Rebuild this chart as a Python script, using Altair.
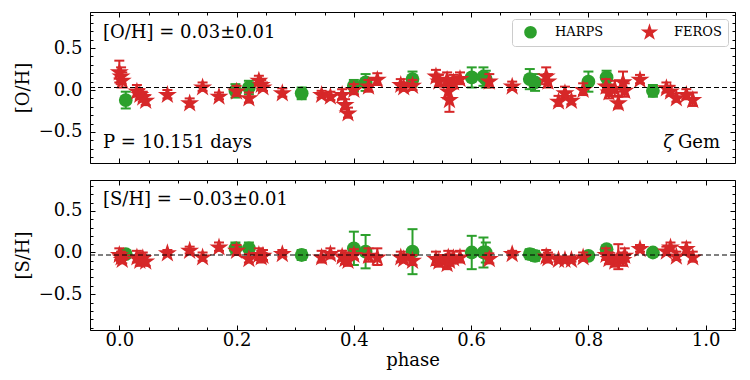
import math
import altair as alt
import pandas as pd

# ---------------- data ----------------
harps_phase = [0.011, 0.198, 0.221, 0.311, 0.400, 0.420, 0.500, 0.601, 0.621, 0.625,
               0.700, 0.709, 0.800, 0.831, 0.910]
harps_oh = [-0.12, -0.01, 0.03, -0.04, 0.05, 0.09, 0.13, 0.15, 0.16, 0.13,
            0.13, 0.09, 0.10, 0.15, -0.01]
harps_oh_err = [0.10, 0.08, 0.08, 0.07, 0.07, 0.10, 0.09, 0.12, 0.11, 0.10,
                0.12, 0.10, 0.12, 0.08, 0.07]
harps_sh = [-0.02, 0.05, 0.05, -0.03, 0.05, 0.01, 0.01, 0.00, 0.00, 0.00,
            -0.02, -0.04, -0.04, 0.04, 0.00]
harps_sh_err = [0.04, 0.07, 0.07, 0.06, 0.20, 0.20, 0.27, 0.20, 0.18, 0.12,
                0.06, 0.06, 0.04, 0.04, 0.03]

feros_phase = [0.000, 0.003, 0.005, 0.030, 0.035, 0.040, 0.045, 0.082, 0.120, 0.142,
               0.170, 0.200, 0.221, 0.238, 0.242, 0.245, 0.278, 0.345, 0.360, 0.380,
               0.385, 0.390, 0.400, 0.425, 0.440, 0.480, 0.485, 0.500, 0.540, 0.545,
               0.559, 0.561, 0.563, 0.570, 0.581, 0.631, 0.670, 0.728, 0.731, 0.749,
               0.760, 0.771, 0.791, 0.830, 0.835, 0.845, 0.851, 0.859, 0.862, 0.888,
               0.933, 0.940, 0.950, 0.967, 0.978]
feros_oh = [0.22, 0.17, 0.12, -0.01, -0.05, -0.08, -0.12, -0.05, -0.15, 0.04,
            -0.07, -0.01, -0.09, 0.12, 0.07, 0.04, -0.03, -0.05, -0.07, -0.05,
            -0.17, -0.27, 0.01, 0.05, 0.13, 0.07, 0.04, 0.06, 0.17, 0.11,
            0.13, -0.01, -0.11, 0.10, 0.14, 0.11, 0.05, 0.17, 0.11, -0.13,
            -0.03, -0.12, 0.01, 0.05, -0.02, 0.02, -0.15, 0.10, 0.00, 0.13,
            0.03, -0.01, -0.09, -0.05, -0.11]
feros_oh_err = [0.13, 0.10, 0.09, 0.07, 0.06, 0.06, 0.06, 0.05, 0.05, 0.05,
                0.04, 0.06, 0.06, 0.05, 0.05, 0.05, 0.05, 0.04, 0.05, 0.06,
                0.06, 0.06, 0.06, 0.07, 0.07, 0.06, 0.05, 0.06, 0.07, 0.07,
                0.08, 0.08, 0.15, 0.08, 0.07, 0.08, 0.05, 0.10, 0.08, 0.06,
                0.07, 0.05, 0.07, 0.08, 0.08, 0.09, 0.07, 0.12, 0.08, 0.05,
                0.06, 0.06, 0.05, 0.06, 0.08]
feros_sh = [-0.02, -0.05, -0.08, -0.05, -0.09, -0.06, -0.10, 0.00, 0.03, -0.05,
            0.07, 0.03, -0.07, -0.02, -0.05, -0.03, -0.01, -0.05, -0.01, -0.04,
            -0.07, -0.09, -0.02, -0.03, -0.05, -0.05, -0.07, -0.09, -0.07, -0.10,
            -0.13, -0.05, -0.09, -0.06, -0.05, -0.07, -0.01, -0.04, -0.06, -0.08,
            -0.08, -0.08, -0.05, -0.02, -0.07, -0.10, -0.05, -0.08, -0.03, 0.05,
            0.02, 0.07, -0.04, 0.05, -0.05]
feros_sh_err = [0.07, 0.06, 0.05, 0.07, 0.07, 0.06, 0.06, 0.03, 0.04, 0.05,
                0.05, 0.06, 0.05, 0.07, 0.07, 0.06, 0.04, 0.07, 0.06, 0.06,
                0.07, 0.07, 0.06, 0.08, 0.10, 0.06, 0.05, 0.06, 0.08, 0.07,
                0.07, 0.07, 0.07, 0.07, 0.07, 0.06, 0.03, 0.07, 0.06, 0.03,
                0.03, 0.03, 0.05, 0.07, 0.07, 0.07, 0.15, 0.08, 0.08, 0.04,
                0.05, 0.05, 0.05, 0.07, 0.06]

instruments = ["HARPS", "FEROS"]
inst_colors = ["#2ca02c", "#d62728"]
mean_oh = [0.03]
mean_sh = [-0.03]
ann_top_left = ["[O/H] = 0.03±0.01"]
ann_period = ["P = 10.151 days"]
ann_star_sym = ["ζ"]
ann_star_name = ["Gem"]
ann_bottom_left = ["[S/H] = −0.03±0.01"]

# ---------------- tables ----------------
def table(phase, val, err, inst):
    return pd.DataFrame({"phase": phase, "val": val, "err": err, "inst": inst})

oh_df = pd.concat([table(harps_phase, harps_oh, harps_oh_err, "HARPS"),
                   table(feros_phase, feros_oh, feros_oh_err, "FEROS")], ignore_index=True)
sh_df = pd.concat([table(harps_phase, harps_sh, harps_sh_err, "HARPS"),
                   table(feros_phase, feros_sh, feros_sh_err, "FEROS")], ignore_index=True)

# 5-point star path (matplotlib '*'), drawn a bit larger than the unit box
STAR_SCALE = 1.45
pts = []
for k in range(10):
    r = (1.0 if k % 2 == 0 else 0.382) * STAR_SCALE
    a = math.radians(36 * k)
    pts.append((r * math.sin(a), -r * math.cos(a) + 0.12))
star_path = "M" + " L".join(f"{x:.4f},{y:.4f}" for x, y in pts) + " Z"

FONT = "DejaVu Serif"
W, H_TOP, H_BOT = 645, 151, 150

xs = alt.Scale(domain=[-0.05, 1.05], nice=False, zero=False)
cscale = alt.Scale(domain=instruments, range=inst_colors)
sscale = alt.Scale(domain=instruments, range=["circle", star_path])

x_major = [0.0, 0.2, 0.4, 0.6, 0.8, 1.0]
x_minor = [round(-0.05 + 0.05 * i, 2) for i in range(23)
           if abs(round((-0.05 + 0.05 * i) / 0.2, 6) % 1) > 1e-6]
y_major = [-0.5, 0.0, 0.5]


def tick_axis(orient, values, size):
    return alt.Axis(orient=orient, values=values, labels=False, domain=False, grid=False,
                    tickSize=size, offset=-size, tickColor="black", tickWidth=1, title=None)


def panel(df, ydomain, ytitle, mean_vals, texts, show_xlabels, with_legend):
    ys = alt.Scale(domain=ydomain, nice=False, zero=False)
    y_minor = [round(v / 10, 1) for v in range(-9, 10)
               if ydomain[0] <= v / 10 <= ydomain[1] and v % 5 != 0]

    base = alt.Chart(df)
    layers = []
    for inst, colr in zip(instruments, inst_colors):
        sub = base.transform_filter(alt.datum.inst == inst).transform_calculate(
            lo="datum.val - datum.err", hi="datum.val + datum.err")
        layers.append(sub.mark_rule(strokeWidth=2, color=colr).encode(
            x=alt.X("phase:Q", scale=xs, axis=None),
            y=alt.Y("lo:Q", scale=ys, axis=None), y2="hi:Q"))
        for end in ["lo", "hi"]:
            layers.append(sub.mark_tick(orient="horizontal", size=10, thickness=2,
                                        color=colr, opacity=1).encode(
                x=alt.X("phase:Q", scale=xs, axis=None),
                y=alt.Y(f"{end}:Q", scale=ys, axis=None)))
        if with_legend:
            leg = alt.Legend(title=None, orient="top-right", direction="horizontal",
                             fillColor="white", strokeColor="#cccccc", cornerRadius=3,
                             padding=6, offset=7, labelFont=FONT, labelFontSize=13,
                             labelColor="black", symbolSize=160, symbolStrokeWidth=0,
                             symbolOffset=6, labelOffset=18, columnPadding=33,
                             symbolOpacity=1)
            col = alt.Color("inst:N", scale=cscale, legend=leg)
            shp = alt.Shape("inst:N", scale=sscale, legend=leg)
        else:
            col = alt.Color("inst:N", scale=cscale, legend=None)
            shp = alt.Shape("inst:N", scale=sscale, legend=None)
        layers.append(sub.mark_point(filled=True, opacity=1, size=190, strokeWidth=0).encode(
            x=alt.X("phase:Q", scale=xs, axis=None),
            y=alt.Y("val:Q", scale=ys, axis=None),
            color=col, shape=shp))

    # dashed mean line
    layers.append(alt.Chart(pd.DataFrame({"m": mean_vals})).mark_rule(
        color="black", strokeWidth=1, strokeDash=[5, 3]).encode(
        y=alt.Y("m:Q", scale=ys, axis=None)))

    # annotations
    for txt, xpos, ypos, align, style in texts:
        layers.append(alt.Chart(pd.DataFrame({"t": txt})).mark_text(
            font=FONT, fontSize=18, align=align, baseline="alphabetic", color="black",
            fontStyle=style).encode(text="t:N", x=alt.value(xpos), y=alt.value(ypos)))

    # axes (inward ticks on all four sides, labels left/bottom)
    lab_y = alt.Axis(orient="left", values=y_major, format=".1f", ticks=False, tickSize=0,
                     domain=False, grid=False, labelFont=FONT, labelFontSize=18,
                     labelColor="black", labelPadding=8, minExtent=46, maxExtent=46,
                     title=ytitle, titleFont=FONT, titleFontSize=18,
                     titleFontWeight="normal", titleColor="black", titlePadding=12)
    if show_xlabels:
        lab_x = alt.Axis(orient="bottom", values=x_major, format=".1f", ticks=False,
                         tickSize=0, domain=False, grid=False, labelFont=FONT,
                         labelFontSize=18, labelColor="black", labelPadding=1,
                         labelFlush=False, title="phase", titleFont=FONT, titleFontSize=18,
                         titleFontWeight="normal", titleColor="black", titlePadding=2)
    else:
        lab_x = None
    x_axes = [lab_x, tick_axis("bottom", x_major, 5), tick_axis("bottom", x_minor, 3),
              tick_axis("top", x_major, 5), tick_axis("top", x_minor, 3)]
    y_axes = [lab_y, tick_axis("left", y_major, 5), tick_axis("left", y_minor, 3),
              tick_axis("right", y_major, 5), tick_axis("right", y_minor, 3)]
    for xa, ya in zip(x_axes, y_axes):
        layers.append(base.mark_point(opacity=0).encode(
            x=alt.X("phase:Q", scale=xs, axis=xa),
            y=alt.Y("val:Q", scale=ys, axis=ya)))

    return alt.layer(*layers).resolve_axis(x="independent", y="independent")


top = panel(oh_df, [-0.87, 0.93], "[O/H]", mean_oh,
            [(ann_top_left, 13, 26, "left", "normal"),
             (ann_period, 13, 136, "left", "normal"),
             (ann_star_name, 630, 136, "right", "normal"),
             (ann_star_sym, 583, 136, "right", "italic")],
            False, True).properties(width=W, height=H_TOP)

bottom = panel(sh_df, [-0.93, 0.87], "[S/H]", mean_sh,
               [(ann_bottom_left, 13, 25, "left", "normal")],
               True, False).properties(width=W, height=H_BOT)

chart = alt.vconcat(top, bottom, spacing=15).resolve_scale(
    color="independent", shape="independent").resolve_legend(
    color="independent", shape="independent").properties(
    background="white",
    padding={"left": 5, "top": 3, "right": 5, "bottom": 5}).configure_view(
    stroke="black", strokeWidth=1)

chart.save("out.html", embed_options={"renderer": "svg", "actions": False})
